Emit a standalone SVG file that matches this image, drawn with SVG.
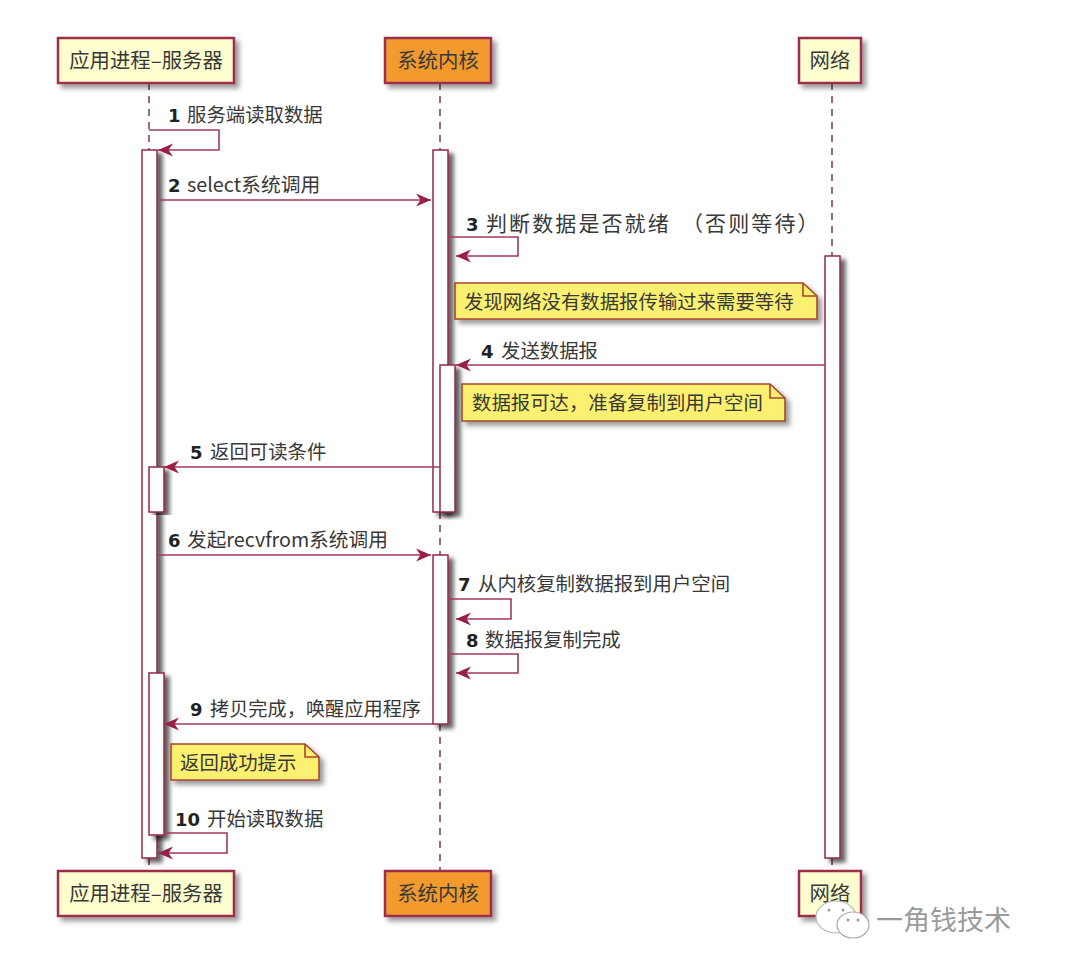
<svg xmlns="http://www.w3.org/2000/svg" width="1078" height="962" viewBox="0 0 1078 962">
<style>
text{font-family:"Noto Sans CJK SC","Liberation Sans",sans-serif;fill:#383838;font-size:19.4px}
.n{font-family:"DejaVu Sans",sans-serif;font-weight:700;font-size:18px;fill:#222}
.t{font-size:20.4px;text-anchor:middle}
.w{font-size:21px;letter-spacing:2.1px}
.box{stroke:#9c2f4c;stroke-width:2.5;filter:url(#sh)}
.a{fill:#fff;stroke:#8f2a48;stroke-width:1.5;filter:url(#sh2)}
.life{fill:none;stroke:#7a3a50;stroke-width:1.5;stroke-dasharray:7 6}
.m{fill:none;stroke:#a03a58;stroke-width:1.6;marker-end:url(#ah)}
.note{fill:#fbf070;stroke:#a8452f;stroke-width:1.6;filter:url(#sh)}
.fold{fill:none;stroke:#a8452f;stroke-width:1.6}
</style>
<defs>
<filter id="sh" x="-20%" y="-30%" width="140%" height="170%"><feDropShadow dx="4" dy="4" stdDeviation="2.5" flood-color="#000" flood-opacity=".4"/></filter>
<filter id="sh2" x="-100%" y="-5%" width="300%" height="110%"><feDropShadow dx="5" dy="4" stdDeviation="2.2" flood-color="#000" flood-opacity=".6"/></filter>
<marker id="ah" markerUnits="userSpaceOnUse" markerWidth="16" markerHeight="14" refX="15" refY="7" orient="auto">
<path d="M0 .5 15 7 0 13.5 4.5 7Z" fill="#9a1f45"/>
</marker>
</defs>
<rect width="1078" height="962" fill="#fff"/>
<g id="lifelines">
<path class="life" d="M149 83V150M440 83V150M832 83V256M440 512V555M440 724V871M149 858V871M832 858V871"/>
</g>
<g id="activations">
<rect class="a" x="142" y="150" width="15" height="708"/>
<rect class="a" x="149" y="467" width="15" height="45"/>
<rect class="a" x="149" y="673" width="15" height="162"/>
<rect class="a" x="433" y="150" width="15" height="362"/>
<rect class="a" x="440" y="365" width="15" height="147"/>
<rect class="a" x="433" y="555" width="15" height="169"/>
<rect class="a" x="825" y="256" width="15" height="602"/>
</g>
<g id="connectors">
<path class="m" d="M149 130H219V150H158"/>
<path class="m" d="M157 200H431"/>
<path class="m" d="M448 237H518V256H456"/>
<path class="m" d="M825 365H456"/>
<path class="m" d="M440 467H164"/>
<path class="m" d="M157 555H431"/>
<path class="m" d="M448 599H511V619H456"/>
<path class="m" d="M448 654H518V673H456"/>
<path class="m" d="M433 724H164"/>
<path class="m" d="M164 833H227V853H158"/>
</g>
<g id="labels">
<text x="168" y="122"><tspan class="n">1</tspan><tspan x="187">服务端读取数据</tspan></text>
<text x="168" y="192"><tspan class="n">2</tspan><tspan x="187" style="font-size:19.8px">select系统调用</tspan></text>
<text x="466" y="231"><tspan class="n">3</tspan><tspan x="486" class="w">判断数据是否就绪</tspan><tspan x="682" class="w">（否则等待）</tspan></text>
<text x="481" y="358"><tspan class="n">4</tspan><tspan x="501">发送数据报</tspan></text>
<text x="190" y="459"><tspan class="n">5</tspan><tspan x="210">返回可读条件</tspan></text>
<text x="168" y="547"><tspan class="n">6</tspan><tspan x="187" style="font-size:19.7px">发起recvfrom系统调用</tspan></text>
<text x="458" y="591"><tspan class="n">7</tspan><tspan x="478">从内核复制数据报到用户空间</tspan></text>
<text x="466" y="647"><tspan class="n">8</tspan><tspan x="485">数据报复制完成</tspan></text>
<text x="190" y="716"><tspan class="n">9</tspan><tspan x="210" style="font-size:19.2px">拷贝完成，唤醒应用程序</tspan></text>
<text x="175" y="826"><tspan class="n">10</tspan><tspan x="207">开始读取数据</tspan></text>
</g>
<g id="note1">
<path class="note" d="M455 283H803L817 296V319H455Z"/><path class="fold" d="M803 283V296H817"/>
<text x="464" y="309">发现网络没有数据报传输过来需要等待</text>
</g>
<g id="note2">
<path class="note" d="M462 384H770L785 398V421H462Z"/><path class="fold" d="M770 384V398H785"/>
<text x="472" y="410">数据报可达，准备复制到用户空间</text>
</g>
<g id="note3">
<path class="note" d="M171 744H305L319 757V780H171Z"/><path class="fold" d="M305 744V757H319"/>
<text x="180" y="770">返回成功提示</text>
</g>
<g id="p1-top"><rect class="box" x="58" y="38" width="176" height="45" fill="#fefece"/><text class="t" x="146" y="68">应用进程–服务器</text></g>
<g id="p2-top"><rect class="box" x="385" y="38" width="106" height="45" fill="#f29a2e"/><text class="t" x="438" y="68">系统内核</text></g>
<g id="p3-top"><rect class="box" x="799" y="38" width="62" height="45" fill="#fefece"/><text class="t" x="830" y="68">网络</text></g>
<g id="p1-bottom"><rect class="box" x="58" y="871" width="176" height="45" fill="#fefece"/><text class="t" x="146" y="901">应用进程–服务器</text></g>
<g id="p2-bottom"><rect class="box" x="385" y="871" width="106" height="45" fill="#f29a2e"/><text class="t" x="438" y="901">系统内核</text></g>
<g id="p3-bottom"><rect class="box" x="799" y="871" width="62" height="45" fill="#fefece"/><text class="t" x="830" y="901">网络</text></g>
<g id="watermark">
<ellipse cx="836" cy="917" rx="20" ry="16" fill="#fff" stroke="#bbb" stroke-width="1.2"/>
<ellipse cx="853" cy="925" rx="16" ry="13" fill="#fff" stroke="#aaa" stroke-width="1.2"/>
<circle cx="829" cy="910" r="1.5" fill="#999"/><circle cx="843" cy="910" r="1.5" fill="#999"/>
<circle cx="848" cy="920" r="1.5" fill="#999"/><circle cx="858" cy="920" r="1.5" fill="#999"/>
<text x="876" y="930" style="font-size:27px;fill:#9a9a9a">一角钱技术</text>
</g>
</svg>
